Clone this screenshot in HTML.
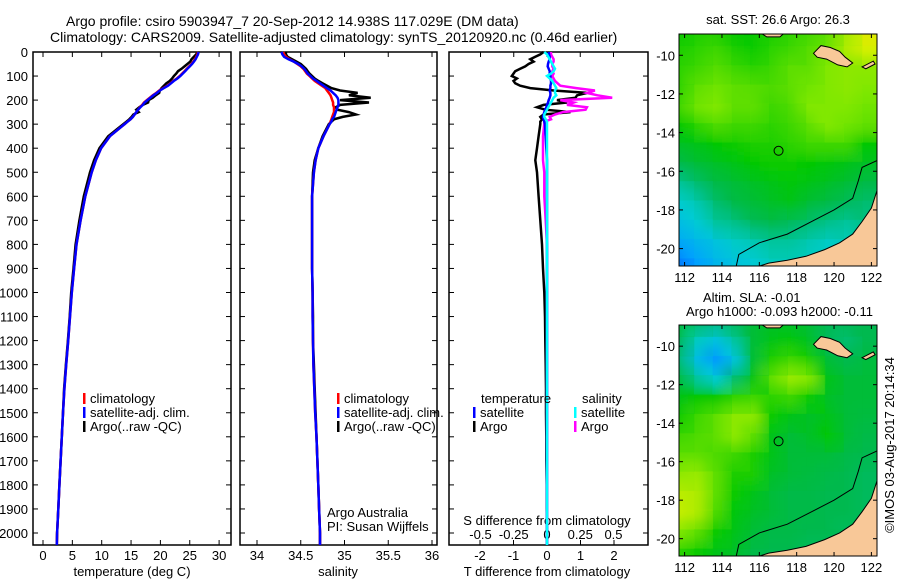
<!DOCTYPE html>
<html><head><meta charset="utf-8"><style>
body{margin:0;background:#fff;}
svg{display:block;font-family:"Liberation Sans",sans-serif;}
</style></head><body>
<svg id="fig" width="900" height="580" viewBox="0 0 900 580">
<text x="66" y="26" font-size="14">Argo profile: csiro 5903947_7 20-Sep-2012 14.938S 117.029E (DM data)</text>
<text x="50" y="42" font-size="14">Climatology: CARS2009. Satellite-adjusted climatology: synTS_20120920.nc (0.46d earlier)</text>
<text x="132" y="576" font-size="13" text-anchor="middle">temperature (deg C)</text>
<text x="338" y="576" font-size="13" text-anchor="middle">salinity</text>
<text x="547" y="576" font-size="13" text-anchor="middle">T difference from climatology</text>
<text x="547" y="525" font-size="13" text-anchor="middle">S difference from climatology</text>
<text x="327" y="517" font-size="13">Argo Australia</text>
<text x="327" y="531" font-size="13">PI: Susan Wijffels</text>
<text x="778" y="24" font-size="13" text-anchor="middle">sat. SST: 26.6 Argo: 26.3</text>
<text x="703" y="302" font-size="13">Altim. SLA: -0.01</text>
<text x="686" y="316" font-size="13">Argo h1000: -0.093 h2000: -0.11</text>
<text transform="translate(894,445) rotate(-90)" font-size="13" text-anchor="middle">©IMOS 03-Aug-2017 20:14:34</text>
</svg>
<script>
const depths=[0,10,20,30,40,50,60,70,80,90,100,110,120,130,140,150,160,170,180,190,200,210,220,230,240,250,260,270,280,290,300,350,400,450,500,600,700,800,900,1000,1100,1200,1300,1400,1500,1600,1700,1800,1900,2000,2050];
const tClim=[26.4,26.3,26.1,25.9,25.6,25.3,24.9,24.5,24.1,23.7,23.3,22.8,22.2,21.7,21.2,20.5,19.8,19.3,18.7,18.2,17.7,17.2,16.9,16.5,16.2,15.9,15.6,15.3,14.9,14.4,13.9,11.4,9.9,9.0,8.3,7.2,6.4,5.7,5.3,4.9,4.6,4.3,3.95,3.65,3.4,3.2,3.0,2.8,2.6,2.4,2.35];
const tSat=[26.5,26.4,26.2,26.0,25.7,25.4,25.0,24.6,24.2,23.8,23.4,22.9,22.3,21.8,21.3,20.6,19.9,19.4,18.8,18.3,17.8,17.3,17.0,16.6,16.2,15.9,15.6,15.3,14.9,14.4,13.9,11.4,9.9,9.0,8.3,7.2,6.4,5.7,5.3,4.9,4.6,4.3,3.95,3.65,3.4,3.2,3.0,2.8,2.6,2.4,2.35];
const tArgo=[26.3,26.1,25.7,25.3,25.1,24.6,24.1,23.6,23.0,22.7,22.3,22.0,21.6,21.0,20.6,20.2,19.9,19.8,19.2,18.7,18.0,17.9,17.0,16.4,15.9,16.3,15.4,15.1,14.7,14.2,13.7,11.1,9.6,8.7,8.0,6.95,6.2,5.55,5.2,4.8,4.55,4.25,3.9,3.6,3.4,3.2,3.0,2.8,2.6,2.4,2.35];
const sClim=[34.30,34.31,34.33,34.37,34.42,34.46,34.50,34.53,34.55,34.57,34.60,34.63,34.66,34.70,34.74,34.78,34.80,34.82,34.84,34.85,34.86,34.87,34.87,34.88,34.88,34.88,34.87,34.86,34.85,34.84,34.83,34.76,34.70,34.67,34.65,34.63,34.63,34.63,34.63,34.635,34.635,34.64,34.645,34.655,34.665,34.68,34.69,34.70,34.71,34.72,34.72];
const sSat=[34.28,34.29,34.31,34.36,34.42,34.47,34.51,34.54,34.56,34.58,34.61,34.64,34.68,34.72,34.76,34.80,34.84,34.87,34.90,34.92,34.93,34.93,34.93,34.92,34.91,34.90,34.89,34.88,34.86,34.85,34.83,34.76,34.70,34.67,34.65,34.63,34.63,34.63,34.63,34.635,34.635,34.64,34.645,34.655,34.665,34.68,34.69,34.70,34.71,34.72,34.72];
const sArgo=[34.33,34.33,34.35,34.40,34.45,34.50,34.53,34.56,34.58,34.60,34.63,34.66,34.70,34.75,34.80,34.85,34.95,35.15,35.05,35.30,34.95,35.28,34.95,34.90,34.92,35.05,35.13,34.98,34.88,34.85,34.82,34.75,34.70,34.66,34.64,34.63,34.63,34.63,34.63,34.635,34.64,34.64,34.65,34.66,34.67,34.68,34.69,34.70,34.71,34.72,34.72];
const tDiffArgo=[-0.1,-0.2,-0.35,-0.5,-0.4,-0.55,-0.65,-0.8,-0.95,-1.0,-1.05,-0.9,-1.0,-0.95,-0.8,-0.5,0.2,1.2,0.9,0.85,0.3,0.6,-0.1,-0.3,-0.05,0.7,-0.1,-0.2,-0.15,-0.2,-0.2,-0.25,-0.3,-0.35,-0.3,-0.25,-0.2,-0.15,-0.12,-0.08,-0.06,-0.05,-0.04,-0.03,-0.03,-0.02,-0.02,-0.01,-0.01,0,0];
const tDiffSat=[0.05,0.06,0.08,0.08,0.05,0.03,0.02,0.05,0.08,0.08,0.1,0.1,0.12,0.12,0.1,0.1,0.08,0.1,0.1,0.08,0.05,0.03,0,-0.02,-0.05,-0.08,-0.1,-0.12,-0.1,-0.08,-0.06,-0.04,-0.02,0,0,0,0,0,0,0,0,0,0,0,0,0,0,0,0,0,0];
const sDiffArgo=[0.03,0.03,0.04,0.05,0.05,0.04,0.04,0.05,0.04,0.05,0.04,0.05,0.06,0.08,0.1,0.22,0.36,0.3,0.38,0.49,0.1,0.2,0.15,0.3,0.29,0.12,0.06,0.02,0.03,-0.02,-0.02,-0.03,-0.03,-0.03,-0.02,-0.02,-0.01,0,0,0,0,0,0,0,0,0,0,0,0,0,0];
const sDiffSat=[-0.02,0,0.01,0.02,0.03,0.04,0.05,0.06,0.05,0.03,0.0,0.02,0.04,0.05,0.06,0.07,0.06,0.06,0.07,0.05,0.04,0.03,0.02,0.01,0,-0.01,-0.02,-0.02,-0.01,0,0,0,0,0,0,0,0,0,0,0,0,0,0,0,0,0,0,0,0,0,0];
const depthTicks=[0,100,200,300,400,500,600,700,800,900,1000,1100,1200,1300,1400,1500,1600,1700,1800,1900,2000];
const tTicks=[0,5,10,15,20,25,30];
const sTicks=[34,34.5,35,35.5,36];
const tdTicks=[-2,-1,0,1,2];
const sdTicks=[-0.5,-0.25,0,0.25,0.5];
const mapLons=[112,114,116,118,120,122];
const mapLats=[-10,-12,-14,-16,-18,-20];
const gridLons=[112,113,114,115,116,117,118,119,120,121,122];
const gridLats=[-9,-10,-11,-12,-13,-14,-15,-16,-17,-18,-19,-20,-21];
const sstGrid=[
[.55,.58,.58,.55,.55,.58,.60,.62,.65,.75,.88],
[.58,.60,.62,.58,.56,.60,.62,.65,.68,.78,.85],
[.60,.62,.65,.62,.60,.62,.66,.66,.70,.72,.72],
[.60,.66,.68,.66,.65,.64,.66,.68,.70,.72,.70],
[.62,.68,.70,.66,.66,.62,.64,.70,.70,.70,.68],
[.55,.60,.64,.62,.62,.60,.62,.66,.70,.68,.66],
[.50,.52,.55,.56,.58,.58,.60,.62,.62,.62,.55],
[.45,.48,.50,.52,.55,.56,.56,.55,.54,.52,.50],
[.38,.42,.46,.48,.50,.52,.54,.52,.50,.48,.46],
[.33,.36,.42,.46,.48,.50,.52,.48,.46,.44,.42],
[.28,.32,.38,.40,.44,.46,.44,.42,.40,.38,.40],
[.22,.26,.30,.34,.36,.38,.38,.36,.34,.35,.38],
[.12,.20,.26,.30,.32,.35,.35,.34,.33,.34,.36]];
const slaGrid=[
[.50,.45,.42,.45,.48,.50,.50,.48,.45,.45,.45],
[.45,.35,.30,.38,.48,.52,.54,.50,.44,.42,.45],
[.42,.28,.18,.30,.48,.58,.62,.58,.48,.45,.47],
[.48,.38,.32,.42,.52,.66,.74,.70,.52,.48,.48],
[.52,.55,.55,.60,.62,.60,.62,.56,.50,.48,.48],
[.56,.62,.66,.72,.72,.56,.52,.50,.52,.48,.47],
[.62,.64,.66,.72,.66,.52,.48,.50,.55,.48,.46],
[.66,.66,.64,.62,.58,.52,.48,.48,.48,.46,.45],
[.72,.74,.66,.58,.58,.50,.48,.47,.46,.45,.44],
[.80,.78,.66,.56,.52,.48,.46,.46,.45,.45,.44],
[.82,.78,.64,.54,.50,.48,.46,.46,.45,.45,.44],
[.70,.66,.56,.52,.48,.46,.46,.45,.45,.44,.44],
[.60,.56,.52,.50,.46,.45,.45,.44,.44,.44,.44]];

const NS="http://www.w3.org/2000/svg";
const svg=document.getElementById('fig');
function mk(tag,attrs,parent){const e=document.createElementNS(NS,tag);for(const k in attrs)e.setAttribute(k,attrs[k]);(parent||svg).appendChild(e);return e;}
const TOP=52,BOT=545;
const yD=d=>TOP+d*0.2405;
const xT=t=>43+t*5.87;
const xS=s=>257+(s-34)*87.5;
const xTd=t=>547+t*33.5;
const xSd=s=>547+s*133;

function panel(name,x0,x1){
  const r=mk('rect',{x:x0,y:TOP,width:x1-x0,height:BOT-TOP,fill:'none',stroke:'#000','stroke-width':1.5});
  
  
  depthTicks.forEach(d=>{
    const a=mk('line',{x1:x0,x2:x0+5,y1:yD(d),y2:yD(d),stroke:'#000'});
    
    
    const b=mk('line',{x1:x1,x2:x1-5,y1:yD(d),y2:yD(d),stroke:'#000'});
    
    
  });
}
function xTicks(name,ticks,fx,labels,yLab,top,bottom){
  ticks.forEach(v=>{
    const x=fx(v);
    if(top){const t=mk('line',{x1:x,x2:x,y1:TOP,y2:TOP+5,stroke:'#000'});
      
      }
    if(bottom){const t=mk('line',{x1:x,x2:x,y1:BOT,y2:BOT-5,stroke:'#000'});
      
      }
    if(labels){const l=mk('text',{x:x,y:yLab,'font-size':13,'text-anchor':'middle'});l.textContent=String(v);
      
      }
  });
}
function series(name,vals,fx,color,w){
  const pts=depths.map((d,i)=>fx(vals[i]).toFixed(1)+','+yD(d).toFixed(1)).join(' ');
  const p=mk('polyline',{points:pts,fill:'none',stroke:color,'stroke-width':w||2.5,'stroke-linejoin':'miter'});
  
  
}
function legend(name,x,y,color,label){
  const m=mk('rect',{x:x,y:y-10,width:2.5,height:11,fill:color});
  
  
  const t=mk('text',{x:x+7,y:y,'font-size':13});t.textContent=label;
  
  
}

depthTicks.forEach(d=>{const l=mk('text',{x:28,y:yD(d)+5,'font-size':13,'text-anchor':'end'});l.textContent=String(d);
  
  });

panel('temperature-panel',33,231);
xTicks('temperature-axis',tTicks,xT,true,560,true,true);
series('temperature-argo-line',tArgo,xT,'#000');
series('temperature-climatology-line',tClim,xT,'#f00');
series('temperature-satellite-line',tSat,xT,'#00f');
legend('legend-climatology-t',83,403,'#f00','climatology');
legend('legend-satellite-t',83,417,'#00f','satellite-adj. clim.');
legend('legend-argo-t',83,431,'#000','Argo(..raw -QC)');

panel('salinity-panel',240,437);
xTicks('salinity-axis',sTicks,xS,true,560,true,true);
series('salinity-argo-line',sArgo,xS,'#000');
series('salinity-climatology-line',sClim,xS,'#f00');
series('salinity-satellite-line',sSat,xS,'#00f');
legend('legend-climatology-s',337,403,'#f00','climatology');
legend('legend-satellite-s',337,417,'#00f','satellite-adj. clim.');
legend('legend-argo-s',337,431,'#000','Argo(..raw -QC)');

panel('difference-panel',449,648);
xTicks('t-diff-axis',tdTicks,xTd,true,560,false,true);
xTicks('s-diff-axis',sdTicks,xSd,true,539,true,false);
series('t-diff-argo-line',tDiffArgo,xTd,'#000');
series('s-diff-argo-line',sDiffArgo,xSd,'#f0f');
series('t-diff-satellite-line',tDiffSat,xTd,'#00f');
series('s-diff-satellite-line',sDiffSat,xSd,'#0ff');
const lt=mk('text',{x:481,y:403,'font-size':13});lt.textContent='temperature';


const ls=mk('text',{x:582,y:403,'font-size':13});ls.textContent='salinity';


legend('legend-t-satellite',473,417,'#00f','satellite');
legend('legend-t-argo',473,431,'#000','Argo');
legend('legend-s-satellite',574,417,'#0ff','satellite');
legend('legend-s-argo',574,431,'#f0f','Argo');

const stops=[[0,[0,70,255]],[0.2,[0,160,255]],[0.33,[0,205,210]],[0.45,[0,185,80]],[0.55,[0,200,0]],[0.7,[130,232,0]],[0.85,[215,240,0]],[1,[255,200,0]]];
function cmap(v){for(let i=1;i<stops.length;i++){if(v<=stops[i][0]){const a=stops[i-1],b=stops[i],f=(v-a[0])/(b[0]-a[0]);
  return 'rgb('+a[1].map((c,k)=>Math.round(c+(b[1][k]-c)*f)).join(',')+')';}}return 'rgb(255,200,0)';}
const defs=mk('defs',{});
const flt=mk('filter',{id:'blur',x:'-10%',y:'-10%',width:'120%',height:'120%'},defs);
mk('feGaussianBlur',{stdDeviation:5},flt);

function drawMap(name,grid,y0,y1){
  const X0=679,X1=877;
  const mx=l=>X0+(l-111.7)*(X1-X0)/10.6;
  const my=la=>y0+(-8.9-la)*(y1-y0)/12;
  const cp=mk('clipPath',{id:name+'-clip'},defs);
  mk('rect',{x:X0,y:y0,width:X1-X0,height:y1-y0},cp);
  const g=mk('g',{'clip-path':'url(#'+name+'-clip)'});
  
  
  const gb=mk('g',{filter:'url(#blur)'},g);
  const cw=(X1-X0)/10.6, ch=(y1-y0)/12;
  grid.forEach((row,r)=>row.forEach((v,c)=>{
    const cell=mk('rect',{x:mx(gridLons[c])-cw,y:my(gridLats[r])-ch,width:cw*2,height:ch*2,fill:cmap(v)},gb);
    
    
  }));
  grid.forEach((row,r)=>row.forEach((v,c)=>{
    const cell=mk('rect',{x:mx(gridLons[c])-cw/2,y:my(gridLats[r])-ch/2,width:cw+0.5,height:ch+0.5,fill:cmap(v),opacity:0.35},g);
    
    
  }));
  const P=a=>a.map(p=>mx(p[0]).toFixed(1)+','+my(p[1]).toFixed(1)).join(' ');
  const land='#f8c898';
  const aus=mk('polygon',{points:P([[115.6,-21.5],[115.7,-21],[116.5,-20.75],[117.5,-20.6],[118.5,-20.4],[119.5,-20.05],[120.3,-19.7],[121,-19.25],[121.5,-18.6],[122.0,-17.9],[122.3,-17.0],[122.5,-17],[122.5,-21.5]]),fill:land,stroke:'#000','stroke-width':1},g);
  
  
  const isl=mk('polygon',{points:P([[118.9,-9.9],[119.3,-9.5],[119.8,-9.6],[120.3,-9.8],[120.6,-10.1],[121.0,-10.4],[120.7,-10.6],[120.2,-10.5],[119.6,-10.2],[119.1,-10.1]]),fill:land,stroke:'#000','stroke-width':1},g);
  
  
  const isl2=mk('polygon',{points:P([[121.5,-10.6],[122.1,-10.3],[122.2,-10.45],[121.7,-10.7]]),fill:land,stroke:'#000','stroke-width':1},g);
  
  
  const isl3=mk('polygon',{points:P([[116.0,-8.8],[117.4,-8.8],[117.1,-9.05],[116.4,-9.05]]),fill:land,stroke:'#000','stroke-width':1},g);
  
  
  const bath=mk('polyline',{points:P([[114.7,-21.2],[114.9,-20.3],[116,-19.7],[117.5,-19.25],[119,-18.5],[120,-18],[121,-17.4],[121.3,-16.5],[121.5,-15.8],[122.4,-15.4]]),fill:'none',stroke:'#000','stroke-width':1},g);
  
  
  const circ=mk('circle',{cx:mx(117.03),cy:my(-14.94),r:4.5,fill:'none',stroke:'#000','stroke-width':1});
  
  
  const fr=mk('rect',{x:X0,y:y0,width:X1-X0,height:y1-y0,fill:'none',stroke:'#000','stroke-width':1});
  
  
  mapLons.forEach(l=>{
    const t=mk('line',{x1:mx(l),x2:mx(l),y1:y0,y2:y0+4,stroke:'#000'});
    
    
    const t2=mk('line',{x1:mx(l),x2:mx(l),y1:y1,y2:y1-4,stroke:'#000'});
    
    
    const tx=mk('text',{x:mx(l),y:y1+16,'font-size':13,'text-anchor':'middle'});tx.textContent=String(l);
    
    
  });
  mapLats.forEach(la=>{
    const t=mk('line',{x1:X0,x2:X0+4,y1:my(la),y2:my(la),stroke:'#000'});
    
    
    const t2=mk('line',{x1:X1,x2:X1-4,y1:my(la),y2:my(la),stroke:'#000'});
    
    
    const tx=mk('text',{x:X0-4,y:my(la)+5,'font-size':13,'text-anchor':'end'});tx.textContent=String(la);
    
    
  });
}
drawMap('sst-map',sstGrid,34,266);
drawMap('sla-map',slaGrid,325,556);
</script>
</body></html>
